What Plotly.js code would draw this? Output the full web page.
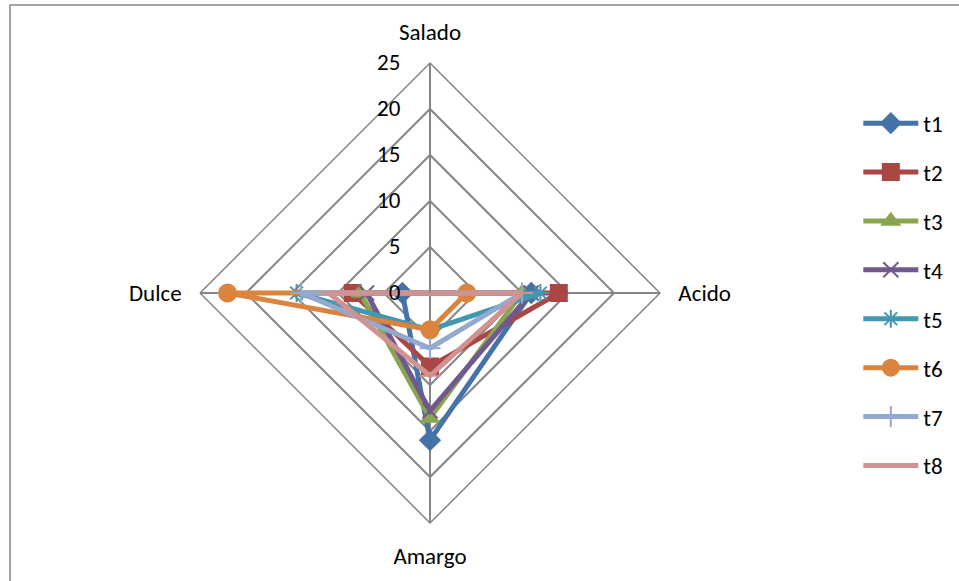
<!DOCTYPE html>
<html>
<head>
<meta charset="utf-8">
<script src="https://cdn.plot.ly/plotly-3.0.1.min.js"></script>
<style>html,body{margin:0;padding:0;background:#fff;}#chart{width:959px;height:581px;}</style>
</head>
<body>
<div id="chart"></div>
<script>
const categories = ["Salado", "Acido", "Amargo", "Dulce"];
const seriesNames = ["t1", "t2", "t3", "t4", "t5", "t6", "t7", "t8"];
const t1 = [0, 11, 16, 3];
const t2 = [0, 14, 8, 8.4];
const t3 = [0, 10, 13.6, 7.6];
const t4 = [0, 11, 12.8, 6.9];
const t5 = [0, 12, 4, 14.5];
const t6 = [0, 4, 4, 22];
const t7 = [0, 10, 6, 14];
const t8 = [0, 10, 9, 11];
const radialTicks = [0, 5, 10, 15, 20, 25];

const allSeries = [t1, t2, t3, t4, t5, t6, t7, t8];
const colors = ["#4572A7", "#AA4643", "#89A54E", "#71588F", "#4198AF", "#DB843D", "#93A9CF", "#D19392"];
const symbols = ["diamond", "square", "triangle-up", "x-thin-open", "asterisk-open", "circle", "cross-thin-open", "line-ew-open"];
const sizes = [15, 16, 15, 15, 15, 17, 15, 15];

const traces = allSeries.map((vals, i) => ({
  type: "scatterpolar",
  name: seriesNames[i],
  r: vals.concat([vals[0]]),
  theta: categories.concat([categories[0]]),
  mode: "lines+markers",
  line: {color: colors[i], width: 5},
  marker: {symbol: symbols[i], size: sizes[i], color: colors[i], line: {color: colors[i], width: 2}},
  legendgroup: "g" + i,
  cliponaxis: false
}));

const pad = "\u00A0\u00A0\u00A0\u00A0";
const layout = {
  width: 959, height: 581,
  margin: {l: 0, r: 0, t: 0, b: 0},
  paper_bgcolor: "#fff",
  font: {family: "Carlito, Calibri, 'Noto Sans', sans-serif", size: 23, color: "#000"},
  showlegend: true,
  legend: {x: 0.895, y: 0.825, xanchor: "left", yanchor: "top", tracegroupgap: 16, font: {size: 23}, itemwidth: 55},
  polar: {
    domain: {x: [200/959, 660/959], y: [1 - 523/581, 1 - 63/581]},
    gridshape: "linear",
    bgcolor: "rgba(0,0,0,0)",
    angularaxis: {
      direction: "clockwise", rotation: 90,
      showline: true, linecolor: "#868686", linewidth: 1.5,
      gridcolor: "#868686", gridwidth: 1.5,
      ticks: "outside", ticklen: 13, tickcolor: "rgba(0,0,0,0)",
      tickfont: {size: 23, color: "#000"}
    },
    radialaxis: {
      range: [0, 25], tickvals: radialTicks, ticktext: radialTicks.map(v => String(v) + pad),
      angle: 90, side: "counterclockwise", tickangle: 90,
      showline: true, linecolor: "#868686", linewidth: 1.5,
      gridcolor: "#868686", gridwidth: 1.5,
      ticks: "", tickfont: {size: 23, color: "#000"}
    }
  },
  shapes: [{type: "rect", xref: "paper", yref: "paper", x0: 10/959, x1: 1.01, y0: -0.01, y1: 1 - 5/581, line: {color: "#868686", width: 1.5}}]
};

Plotly.newPlot("chart", traces, layout, {displayModeBar: false});
</script>
</body>
</html>
